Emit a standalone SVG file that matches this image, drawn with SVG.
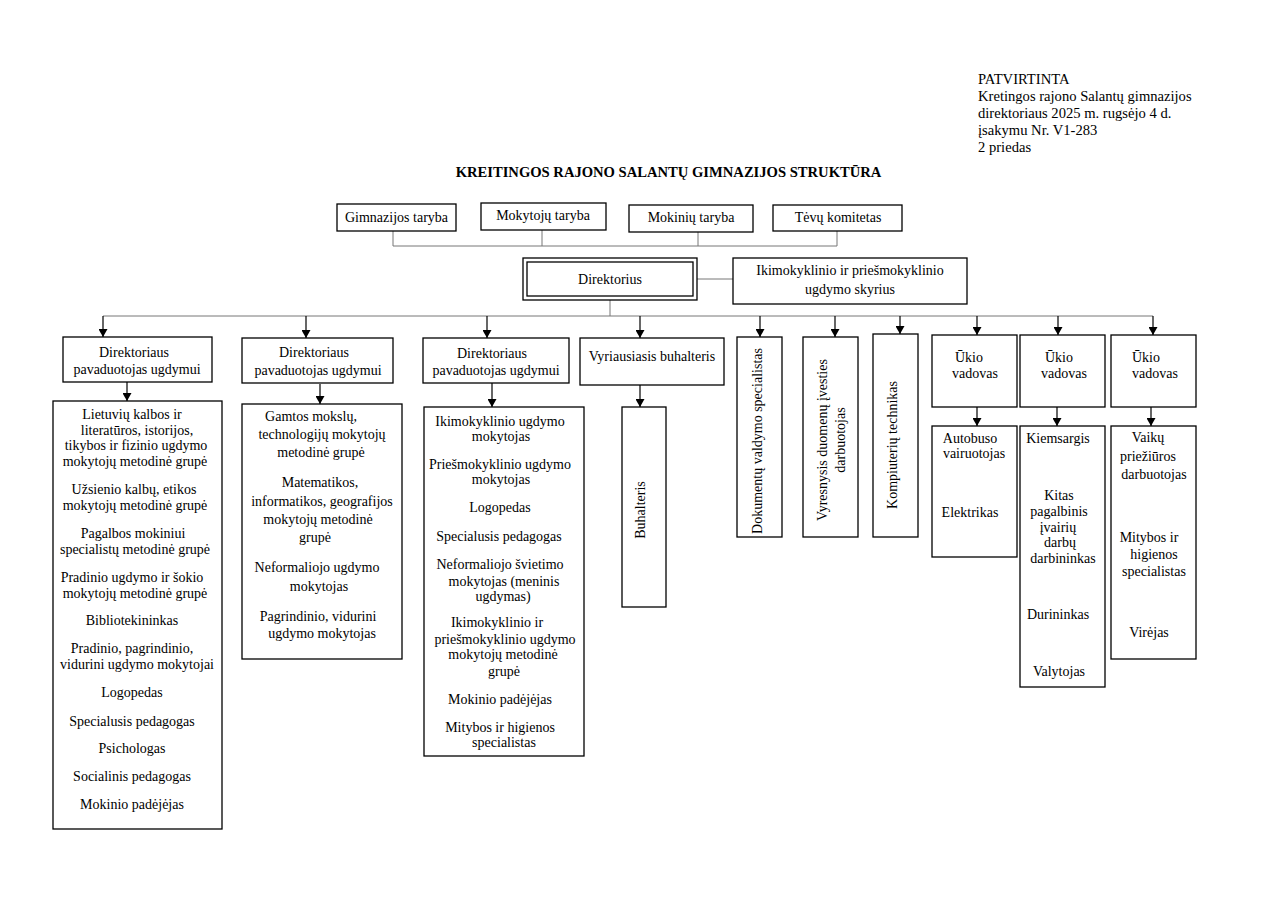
<svg xmlns="http://www.w3.org/2000/svg" width="1280" height="904" viewBox="0 0 1280 904">
<style>
.box{fill:#fff;stroke:#000;stroke-width:1.3}
.t{font-family:"Liberation Serif","Times New Roman",serif;font-size:14px;fill:#000}
.h{font-size:14.6px}
.c{text-anchor:middle}
.ln{stroke:#777;stroke-width:1;fill:none}
.ar{stroke:#000;stroke-width:1.2;fill:none;marker-end:url(#ah)}
</style>
<defs>
<marker id="ah" markerUnits="userSpaceOnUse" markerWidth="8" markerHeight="9" refX="8" refY="4.5" orient="auto">
<path d="M0,0 L8,4.5 L0,9 z" fill="#000"/>
</marker>
</defs>
<rect width="1280" height="904" fill="#fff"/>

<g id="header" class="t h">
<text x="978" y="84">PATVIRTINTA</text>
<text x="978" y="101">Kretingos rajono Salantų gimnazijos</text>
<text x="978" y="118">direktoriaus 2025 m. rugsėjo 4 d.</text>
<text x="978" y="135">įsakymu Nr. V1-283</text>
<text x="978" y="152">2 priedas</text>
</g>
<g id="title"><text class="t h c" x="668.5" y="177" font-weight="bold">KREITINGOS RAJONO SALANTŲ GIMNAZIJOS STRUKTŪRA</text></g>

<g id="connectors">
<path class="ln" d="M393,231 V246 M542,230 V246 M698,232 V246 M837,231 V246 M393,246 H837"/>
<path class="ln" d="M697,279 H733 M610,300 V316 M103,316 H1153"/>
<path class="ar" d="M103,316 V337"/>
<path class="ar" d="M306,316 V338"/>
<path class="ar" d="M487,316 V338"/>
<path class="ar" d="M640,316 V338"/>
<path class="ar" d="M760,316 V337"/>
<path class="ar" d="M835,316 V337"/>
<path class="ar" d="M900,316 V334"/>
<path class="ar" d="M977,316 V335"/>
<path class="ar" d="M1058,316 V335"/>
<path class="ar" d="M1153,316 V335"/>
<path class="ar" d="M127,382 V401"/>
<path class="ar" d="M320,384 V404"/>
<path class="ar" d="M492,383 V407"/>
<path class="ar" d="M640,385 V407"/>
<path class="ar" d="M977,407 V426"/>
<path class="ar" d="M1057,407 V426"/>
<path class="ar" d="M1151,407 V426"/>
</g>

<g id="gimnazijos-taryba"><rect class="box" x="337" y="204" width="119" height="27"/><text class="t c" x="396.5" y="222">Gimnazijos taryba</text></g>
<g id="mokytoju-taryba"><rect class="box" x="481" y="203" width="125" height="27"/><text class="t c" x="543" y="220">Mokytojų taryba</text></g>
<g id="mokiniu-taryba"><rect class="box" x="629" y="205" width="124" height="27"/><text class="t c" x="691" y="222">Mokinių taryba</text></g>
<g id="tevu-komitetas"><rect class="box" x="773" y="205" width="129" height="26"/><text class="t c" x="838" y="222">Tėvų komitetas</text></g>

<g id="direktorius">
<rect class="box" x="523" y="258" width="174" height="42"/>
<rect class="box" x="527" y="262" width="166" height="34"/>
<text class="t c" x="610" y="284">Direktorius</text>
</g>
<g id="ikimokyklinio-skyrius">
<rect class="box" x="733" y="258" width="234" height="46"/>
<text class="t c" x="850" y="275">Ikimokyklinio ir priešmokyklinio</text>
<text class="t c" x="850" y="294">ugdymo skyrius</text>
</g>

<g id="pavaduotojas1">
<rect class="box" x="63" y="337" width="149" height="45"/>
<text class="t c" x="134" y="357">Direktoriaus</text>
<text class="t c" x="137" y="374">pavaduotojas ugdymui</text>
</g>
<g id="grupe1">
<rect class="box" x="53" y="401" width="169" height="428"/>
<g class="t c">
<text x="132" y="419">Lietuvių kalbos ir</text>
<text x="137" y="435">literatūros, istorijos,</text>
<text x="136" y="450">tikybos ir fizinio ugdymo</text>
<text x="135" y="466">mokytojų metodinė grupė</text>
<text x="134" y="494">Užsienio kalbų, etikos</text>
<text x="135" y="510">mokytojų metodinė grupė</text>
<text x="133" y="538">Pagalbos mokiniui</text>
<text x="135" y="554">specialistų metodinė grupė</text>
<text x="132" y="582">Pradinio ugdymo ir šokio</text>
<text x="135" y="598">mokytojų metodinė grupė</text>
<text x="132" y="625">Bibliotekininkas</text>
<text x="132" y="653">Pradinio, pagrindinio,</text>
<text x="137" y="669">vidurini ugdymo mokytojai</text>
<text x="132" y="697">Logopedas</text>
<text x="132" y="726">Specialusis pedagogas</text>
<text x="132" y="753">Psichologas</text>
<text x="132" y="781">Socialinis pedagogas</text>
<text x="132" y="809">Mokinio padėjėjas</text>
</g>
</g>

<g id="pavaduotojas2">
<rect class="box" x="242" y="338" width="151" height="45"/>
<text class="t c" x="314" y="357">Direktoriaus</text>
<text class="t c" x="318" y="375">pavaduotojas ugdymui</text>
</g>
<g id="grupe2">
<rect class="box" x="242" y="404" width="160" height="255"/>
<g class="t c">
<text x="311" y="421">Gamtos mokslų,</text>
<text x="322" y="439">technologijų mokytojų</text>
<text x="321" y="457">metodinė grupė</text>
<text x="320" y="487">Matematikos,</text>
<text x="322" y="506">informatikos, geografijos</text>
<text x="318" y="524">mokytojų metodinė</text>
<text x="315" y="542">grupė</text>
<text x="317" y="572">Neformaliojo ugdymo</text>
<text x="319" y="591">mokytojas</text>
<text x="318" y="621">Pagrindinio, vidurini</text>
<text x="322" y="638">ugdymo mokytojas</text>
</g>
</g>

<g id="pavaduotojas3">
<rect class="box" x="423" y="338" width="146" height="45"/>
<text class="t c" x="492" y="358">Direktoriaus</text>
<text class="t c" x="496" y="375">pavaduotojas ugdymui</text>
</g>
<g id="grupe3">
<rect class="box" x="424" y="407" width="160" height="349"/>
<g class="t c">
<text x="500" y="426">Ikimokyklinio ugdymo</text>
<text x="501" y="441">mokytojas</text>
<text x="500" y="469">Priešmokyklinio ugdymo</text>
<text x="501" y="484">mokytojas</text>
<text x="500" y="512">Logopedas</text>
<text x="499" y="541">Specialusis pedagogas</text>
<text x="500" y="569">Neformaliojo švietimo</text>
<text x="504" y="586">mokytojas (meninis</text>
<text x="503" y="601">ugdymas)</text>
<text x="497" y="627">Ikimokyklinio ir</text>
<text x="505" y="644">priešmokyklinio ugdymo</text>
<text x="503" y="659">mokytojų metodinė</text>
<text x="504" y="676">grupė</text>
<text x="500" y="704">Mokinio padėjėjas</text>
<text x="500" y="732">Mitybos ir higienos</text>
<text x="504" y="747">specialistas</text>
</g>
</g>

<g id="vyriausiasis-buhalteris">
<rect class="box" x="580" y="338" width="144" height="47"/>
<text class="t c" x="652" y="361">Vyriausiasis buhalteris</text>
</g>
<g id="buhalteris">
<rect class="box" x="622" y="407" width="44" height="200"/>
<text class="t c" transform="translate(645,510) rotate(-90)">Buhalteris</text>
</g>

<g id="dokumentu-specialistas">
<rect class="box" x="737" y="337" width="45" height="200"/>
<text class="t c" transform="translate(762,441) rotate(-90)">Dokumentų valdymo specialistas</text>
</g>
<g id="duomenu-darbuotojas">
<rect class="box" x="803" y="337" width="55" height="200"/>
<text class="t c" transform="translate(827,440) rotate(-90)">Vyresnysis duomenų įvesties</text>
<text class="t c" transform="translate(845,440) rotate(-90)">darbuotojas</text>
</g>
<g id="kompiuteriu-technikas">
<rect class="box" x="873" y="334" width="45" height="203"/>
<text class="t c" transform="translate(897,445) rotate(-90)">Kompiuterių technikas</text>
</g>

<g id="ukio-vadovas1">
<rect class="box" x="932" y="335" width="85" height="72"/>
<text class="t" x="955" y="362">Ūkio</text>
<text class="t" x="952" y="378">vadovas</text>
</g>
<g id="ukio-grupe1">
<rect class="box" x="932" y="426" width="85" height="131"/>
<text class="t c" x="970" y="443">Autobuso</text>
<text class="t c" x="974" y="458">vairuotojas</text>
<text class="t c" x="970" y="517">Elektrikas</text>
</g>

<g id="ukio-vadovas2">
<rect class="box" x="1020" y="335" width="85" height="72"/>
<text class="t" x="1045" y="362">Ūkio</text>
<text class="t" x="1041" y="378">vadovas</text>
</g>
<g id="ukio-grupe2">
<rect class="box" x="1020" y="426" width="85" height="261"/>
<g class="t c">
<text x="1058" y="443">Kiemsargis</text>
<text x="1059" y="500">Kitas</text>
<text x="1059" y="516">pagalbinis</text>
<text x="1058" y="532">įvairių</text>
<text x="1060" y="547">darbų</text>
<text x="1063" y="563">darbininkas</text>
<text x="1058" y="619">Durininkas</text>
<text x="1059" y="676">Valytojas</text>
</g>
</g>

<g id="ukio-vadovas3">
<rect class="box" x="1111" y="335" width="85" height="72"/>
<text class="t" x="1132" y="362">Ūkio</text>
<text class="t" x="1132" y="378">vadovas</text>
</g>
<g id="ukio-grupe3">
<rect class="box" x="1111" y="426" width="85" height="233"/>
<g class="t c">
<text x="1148" y="442">Vaikų</text>
<text x="1148" y="461">priežiūros</text>
<text x="1154" y="479">darbuotojas</text>
<text x="1149" y="542">Mitybos ir</text>
<text x="1154" y="559">higienos</text>
<text x="1154" y="576">specialistas</text>
<text x="1149" y="637">Virėjas</text>
</g>
</g>
</svg>
